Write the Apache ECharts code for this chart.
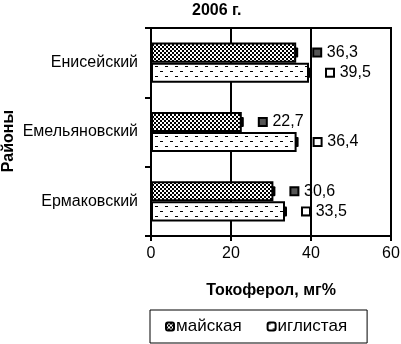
<!DOCTYPE html>
<html><head><meta charset="utf-8">
<script src="https://cdn.jsdelivr.net/npm/echarts@6/dist/echarts.min.js"></script>
<style>html,body{margin:0;padding:0;background:#fff}#c{width:401px;height:344px}</style>
</head><body><div id="c"></div>
<script>
const categories = ['Ермаковский', 'Емельяновский', 'Енисейский'];
const mayskaya = [30.6, 22.7, 36.3];
const iglistaya = [33.5, 36.4, 39.5];
const seriesNames = ['майская', 'иглистая'];
const xTicks = { min: 0, max: 60, interval: 20 };

function makePattern(w, h, draw) {
  const c = document.createElement('canvas');
  c.width = w; c.height = h;
  const g = c.getContext('2d');
  g.fillStyle = '#fff'; g.fillRect(0, 0, w, h);
  g.fillStyle = '#000';
  draw(g);
  return { image: c, repeat: 'repeat' };
}
const checker = makePattern(4, 4, g => {
  g.fillRect(0, 0, 2, 2); g.fillRect(2, 2, 2, 2);
});
const dotted = makePattern(10, 10, g => {
  g.fillRect(0, 1, 3, 1); g.fillRect(5, 6, 3, 1);
});

const font = 'Liberation Sans, Arial, sans-serif';
const CAT_GAP = 0.42;
function fmt(v) { return String(v.toFixed(1)).replace('.', ','); }

function mkSeries(name, data, pattern, iconStyle) {
  return {
    name: name, type: 'bar', data: data,
    barGap: '0%', barCategoryGap: (CAT_GAP * 100) + '%',
    itemStyle: { color: pattern, borderColor: '#000', borderWidth: 2 },
    label: {
      show: true, position: 'right', distance: 18,
      formatter: p => '{a|}  {v|' + fmt(p.value) + '}',
      rich: {
        a: iconStyle,
        v: { fontFamily: font, fontSize: 16, color: '#000' }
      }
    }
  };
}

// small black end-marks at the tip of each bar
function capSeries(data, idx) {
  return {
    type: 'custom', silent: true, z: 5,
    data: data.map((v, i) => [v, i]),
    renderItem: (params, api) => {
      const p = api.coord([api.value(0), api.value(1)]);
      const band = api.size([0, 1])[1];
      const bw = band * (1 - CAT_GAP) / 2;
      const cy = p[1] + (idx === 0 ? -bw / 2 : bw / 2);
      return { type: 'rect', shape: { x: p[0] - 1.5, y: cy - 5, width: 3.5, height: 10, r: 1 },
               style: { fill: '#000' } };
    }
  };
}

const chart = echarts.init(document.getElementById('c'));
chart.setOption({
  animation: false,
  title: { text: '2006 г.', left: 187, top: -2,
    textStyle: { fontFamily: font, fontSize: 16, fontWeight: 'bold', color: '#000' } },
  grid: { left: 151, right: 10, top: 28, bottom: 108, outerBoundsMode: 'none',
    show: true, borderColor: '#000', borderWidth: 2, backgroundColor: 'transparent' },
  legend: {
    data: seriesNames, left: 150, bottom: 1,
    padding: [8, 20, 8, 15], itemGap: 25,
    borderColor: '#000', borderWidth: 1, borderRadius: 0,
    itemWidth: 8, itemHeight: 8,
    textStyle: { fontFamily: font, fontSize: 17, color: '#000', padding: [0, 0, 0, -3] }
  },
  xAxis: {
    type: 'value', min: xTicks.min, max: xTicks.max, interval: xTicks.interval,
    name: 'Токоферол, мг%', nameLocation: 'middle', nameGap: 47,
    nameTextStyle: { fontFamily: font, fontSize: 16, fontWeight: 'bold', color: '#000' },
    axisLine: { show: true, lineStyle: { color: '#000', width: 2 } },
    axisTick: { show: true, length: 5, lineStyle: { color: '#000', width: 2 } },
    axisLabel: { fontFamily: font, fontSize: 16, color: '#000', margin: 10 },
    splitLine: { show: true, lineStyle: { color: '#000', width: 2 } }
  },
  yAxis: {
    type: 'category', data: categories,
    name: 'Районы', nameLocation: 'middle', nameGap: 134, nameRotate: 90,
    nameMoveOverlap: false,
    nameTextStyle: { fontFamily: font, fontSize: 16, fontWeight: 'bold', color: '#000',
      padding: [0, 18, 0, 0] },
    axisLine: { show: true, lineStyle: { color: '#000', width: 2 } },
    axisTick: { show: true, length: 6, lineStyle: { color: '#000', width: 2 } },
    axisLabel: { fontFamily: font, fontSize: 16, color: '#000', margin: 13 }
  },
  series: [
    mkSeries(seriesNames[0], mayskaya, checker,
      { width: 6, height: 6, backgroundColor: '#555', borderColor: '#000', borderWidth: 2 }),
    mkSeries(seriesNames[1], iglistaya, dotted,
      { width: 6, height: 6, backgroundColor: '#fff', borderColor: '#000', borderWidth: 2 }),
    capSeries(mayskaya, 0),
    capSeries(iglistaya, 1)
  ]
});
</script></body></html>
